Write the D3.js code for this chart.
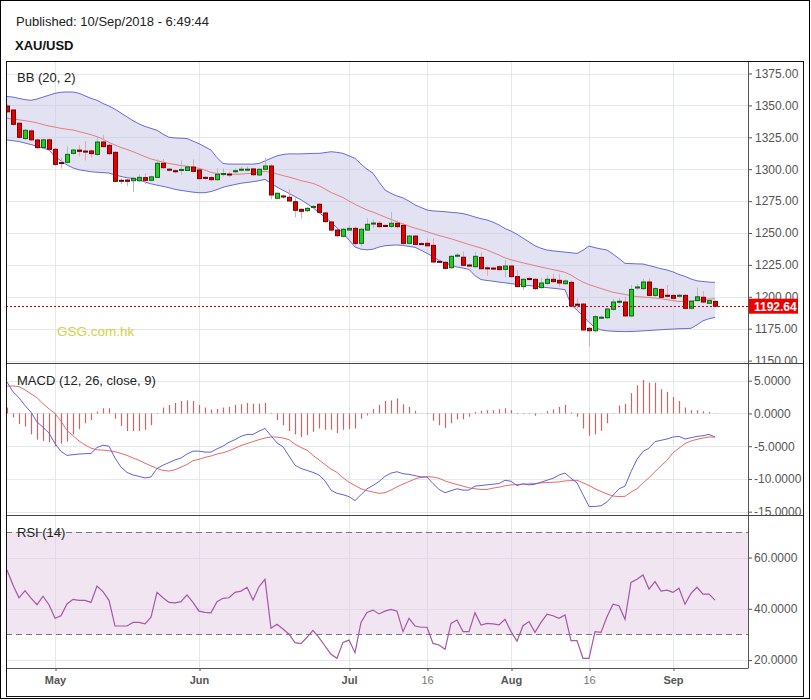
<!DOCTYPE html>
<html><head><meta charset="utf-8">
<script src="https://cdn.jsdelivr.net/npm/d3@7/dist/d3.min.js"></script>
<style>body{margin:0;background:#fff;} svg{display:block;font-family:"Liberation Sans",Arial,sans-serif;}</style>
</head><body><svg id="c" width="811" height="700"></svg>
<script>
const opens=[1349.5,1346.4,1336,1324,1330,1322.9,1317,1323,1315.6,1305.2,
1305.4,1312.4,1315,1314.2,1314.3,1311.6,1321.3,1318.7,1313.2,1291.3,
1291.5,1291,1291,1293.4,1291.3,1293.6,1304.6,1300,1298.8,1299,
1299,1301.7,1299.4,1293.6,1293.4,1291.8,1296.3,1296.2,1298.2,1299.6,
1299.6,1300.2,1295.5,1299.9,1302.5,1277.2,1279,1278,1274.5,1268.5,
1267.5,1270.2,1272.5,1265.7,1258.6,1252.3,1247.4,1252.3,1253.6,1241.9,
1252.3,1257.4,1257.6,1255.9,1255.2,1257.6,1256,1241.9,1247.6,1241.7,
1241.9,1240.3,1227.8,1227,1222.8,1232.3,1231,1224.9,1223.6,1230.9,
1222.7,1222.5,1223.6,1221.5,1224.1,1215.8,1208,1214.3,1213.7,1207.2,
1210.5,1213.7,1212.9,1210.3,1211.3,1194.2,1194.3,1175.3,1173.4,1183.6,
1183.6,1190.2,1196.1,1195.9,1185,1207.3,1206.4,1211.6,1201.1,1205.8,
1201.2,1201.1,1200.8,1201.1,1191,1197,1199.6,1194.9,1196.4];
const closes=[1345.0,1335.2,1325,1330.5,1323,1316.9,1323,1315.6,1303.8,1304.6,
1311.6,1315,1314,1314.0,1312.2,1321.3,1317.7,1312.2,1290.5,1290.6,
1290.5,1292.8,1293.6,1291.3,1294,1304.6,1301.2,1299.5,1298.4,1299.8,
1301.7,1298.3,1292.6,1292.9,1291.8,1296,1296.6,1295.9,1298.8,1300,
1300.0,1295.7,1299.9,1302.5,1279.8,1281.1,1278.3,1275.1,1267.8,1267,
1269.3,1270.8,1266.2,1258.9,1252.3,1247.9,1252.9,1253.6,1241.9,1252.9,
1256.8,1257.8,1255,1255.6,1257.6,1255,1241.9,1247.6,1241.1,1241.3,
1240,1227.3,1227.4,1222.3,1231.7,1232.6,1224.7,1224.7,1231.7,1222,
1222.5,1222.3,1221.3,1224.1,1215.8,1208,1213.7,1214.1,1206.4,1210.8,
1213.7,1211.9,1210.8,1212.4,1192.8,1193.8,1174,1173.4,1184.4,1184.0,
1190.4,1195.9,1196.5,1185,1205.8,1207.7,1211.6,1201.1,1206.4,1199.6,
1200.8,1198.8,1201.2,1191,1196.4,1200,1195.9,1197,1192.64];
const highs=[1351,1347,1337,1331.5,1331,1324,1324,1324,1316.5,1309,
1318,1316,1319,1322,1315.5,1325.5,1327,1320,1314,1293,
1292.5,1294,1296,1296.8,1295,1307.7,1308,1301,1300,1307,
1303,1307.7,1300,1294.5,1294.5,1300.7,1300.7,1298,1301,1302,
1302,1301,1301,1309,1304,1282,1280,1284.3,1277.2,1269.5,
1270.5,1272,1273.5,1266.5,1259.5,1253,1254,1256,1255,1254,
1261.5,1260.5,1259.4,1257,1266.5,1260,1258,1248.5,1248.3,1243,
1245.6,1245.6,1229,1228,1232.5,1234,1235.6,1226,1235,1235.1,
1224,1223.5,1224.5,1228.8,1225,1221,1214.5,1216,1214.5,1215,
1217,1218,1218,1213.5,1213,1198.8,1195,1176.5,1185.5,1185.5,
1191.5,1198.5,1199,1200,1209.2,1210,1214,1214.5,1207.5,1206.5,
1209.2,1202,1202.5,1202,1197.5,1207.3,1204.5,1198,1197];
const lows=[1344,1334,1324,1323,1322,1316,1316,1314.5,1302.5,1300.5,
1304.5,1311.5,1310,1306.8,1309,1310.5,1317,1311,1290,1288.4,
1286.8,1282.3,1290,1288.4,1290.5,1293,1300.5,1298,1296.5,1295.5,
1298.5,1297.5,1292,1291.5,1290.5,1291,1294.3,1294,1297,1298,
1298.5,1294.5,1294.5,1299.5,1276.4,1276.5,1277,1274.5,1262.3,1261.2,
1266.5,1269.5,1265.5,1258,1251.5,1247,1246.5,1251.5,1240,1239.3,
1251.5,1254,1254,1254.5,1254,1253.5,1240.5,1241,1240.5,1240.5,
1239.5,1226.5,1226.5,1221.5,1222,1231,1224,1223.5,1223,1221.5,
1216.5,1221,1220.5,1215.2,1215,1207.5,1205.3,1213,1205.5,1206.5,
1209.5,1211,1208,1209.5,1192,1191,1173.5,1160.9,1172.5,1182.5,
1182.5,1189,1194.5,1184.5,1184,1205.5,1205.5,1200.5,1200,1199,
1199.5,1198,1199.5,1190,1190,1196.5,1195,1194.2,1192];
const bbUpper=[1357,1356.5,1355.5,1354.5,1354,1355,1356.5,1358,1359.5,1360.3,
1360.5,1360.5,1359.5,1357.5,1355.5,1354,1351.5,1349.5,1347,1344,
1341,1338,1335.5,1333.5,1332,1330.5,1327.5,1325,1324.5,1324.3,
1324,1322,1320,1317.5,1315,1309,1304.5,1304,1304,1304,
1304,1304,1304.5,1306.5,1308.5,1310.5,1311.5,1312,1312,1312,
1312.2,1312.4,1312.4,1313,1313.7,1313.2,1312.4,1310.5,1308.5,1304,
1300,1296.8,1290,1283.7,1281,1279,1277.5,1275,1272,1270,
1268,1267.3,1267,1266.7,1266.2,1265.8,1265.2,1264,1262.5,1261.2,
1260.2,1258.5,1256.3,1253.5,1251.5,1249,1246,1243,1240,1238,
1236.7,1236,1235.5,1235,1234.5,1234,1236.5,1239.8,1238.5,1237.5,
1236.7,1233.5,1230,1226.2,1226,1225.8,1225.7,1224.5,1223.3,1222,
1221,1219.5,1217.5,1216,1214,1212.5,1212,1211.5,1211.3];
const bbMiddle=[1340,1339.3,1338.7,1338,1337.3,1336.3,1335,1333.8,1333,1332,
1331.3,1330.7,1329.5,1328.3,1327,1325.5,1323.5,1321,1319,1317,
1315.5,1313.7,1311.8,1309.8,1308,1306.8,1305.5,1304.5,1303.7,1302.8,
1302.3,1301.5,1300.7,1299.3,1297.5,1296.6,1296.3,1296,1296,1296.2,
1296.5,1296.8,1297.5,1298.3,1297.5,1296.3,1295,1293.8,1292.5,1291,
1290,1288.9,1287,1284.5,1281.8,1279.8,1277.8,1275,1272.5,1270.2,
1268,1266.3,1264.5,1262.5,1260.7,1258.8,1257,1255.3,1253.8,1252.5,
1251,1249.5,1248,1246.8,1245.5,1244,1242.5,1241,1239.6,1238.2,
1236.7,1234.7,1232.7,1230.5,1229,1227.8,1226.6,1225.5,1224.4,1223.3,
1222.3,1221.3,1220.3,1219.2,1217,1214,1211.5,1209.6,1208,1206.5,
1205,1203.5,1202.7,1201.8,1200.9,1200.1,1199.8,1199.4,1199,1198.5,
1197.8,1197,1196.3,1196.6,1196.9,1197.4,1197.8,1198.2,1198.5];
const bbLower=[1323,1322.3,1321.7,1320.5,1319.3,1318,1316.5,1315,1310,1306.5,
1303.3,1301,1299.5,1298.8,1298,1297.6,1297.3,1297,1295.5,1294.3,
1293.3,1292.8,1291.5,1290,1288.5,1287.5,1286.5,1285.5,1284.2,1283.4,
1282.7,1282,1281.6,1281.6,1282.5,1284,1285.8,1287,1288,1289,
1289.6,1290.2,1291,1292,1289,1286,1283.5,1281,1278.5,1276,
1273,1269.8,1266,1262.5,1258.5,1254,1250,1244.5,1239,1237.3,
1236.8,1237.3,1239,1240,1240.4,1240.6,1240.3,1239.5,1238.8,1236.5,
1234,1231.5,1228.5,1226.5,1225,1223.3,1222.5,1221.5,1216.5,1213.5,
1212.8,1212.2,1211.5,1211,1210.3,1209.8,1209.3,1208.8,1208.3,1207.7,
1207.2,1206.7,1206.2,1205.6,1194,1189.5,1185,1180,1176,1174,
1173.3,1173,1172.8,1172.7,1172.8,1173,1173.3,1173.6,1173.9,1174.2,
1174.5,1174.7,1175,1175.1,1175.3,1178,1181.2,1182.8,1183.9];
const macdLine=[4.8,3.3,2.4,1.2,0.2,-1.3,-2.1,-3.0,-4.6,-5.8,
-6.4,-6.3,-6.2,-6.15,-6.1,-5.2,-4.85,-5.0,-6.8,-8.2,
-9.0,-9.4,-9.6,-9.85,-9.7,-8.4,-7.9,-7.5,-7.1,-6.8,
-6.2,-5.75,-5.75,-5.9,-5.9,-5.4,-5.0,-4.4,-4.0,-3.5,
-3.2,-3.2,-2.7,-2.3,-3.4,-4.5,-5.1,-6.5,-7.9,-8.4,
-8.7,-9.0,-9.4,-10.3,-11.7,-12.2,-12.4,-12.7,-13.3,-12.4,
-11.5,-11.0,-10.4,-9.6,-9.1,-8.9,-9.2,-9.3,-9.5,-9.7,
-9.7,-10.7,-11.6,-12.1,-11.8,-11.5,-11.7,-11.7,-11.1,-11.0,
-10.9,-10.8,-10.7,-10.2,-10.35,-11.0,-10.75,-10.9,-10.8,-10.5,
-10.2,-9.9,-9.4,-9.1,-9.9,-10.6,-12.4,-14.2,-14.2,-14.1,
-13.5,-12.5,-11.5,-11.1,-8.9,-7.0,-5.8,-5.3,-4.3,-4.1,
-3.9,-3.6,-3.5,-3.9,-3.7,-3.5,-3.4,-3.2,-3.6];
const macdSignal=[4.17,4.2,4.1,3.6,3.0,2.4,1.5,0.7,0.0,-1.2,
-2.6,-3.4,-4.2,-4.8,-5.3,-5.55,-5.6,-5.7,-5.85,-6.1,
-6.4,-6.8,-7.15,-7.6,-8.0,-8.4,-8.7,-8.8,-8.6,-8.2,
-7.8,-7.2,-7.0,-6.7,-6.5,-6.2,-6.0,-5.7,-5.3,-4.9,
-4.6,-4.3,-4.0,-3.75,-3.6,-3.6,-3.75,-4.0,-4.7,-5.2,
-5.6,-6.4,-7.1,-7.8,-8.5,-9.0,-9.8,-10.5,-11.0,-11.5,
-11.8,-12.0,-12.2,-12.1,-11.7,-11.2,-10.8,-10.4,-10.0,-9.75,
-9.65,-9.7,-9.9,-10.3,-10.6,-10.85,-11.1,-11.35,-11.5,-11.6,
-11.6,-11.4,-11.25,-11.05,-10.9,-10.85,-10.8,-10.75,-10.7,-10.6,
-10.55,-10.5,-10.45,-10.3,-10.25,-10.2,-10.6,-11.0,-11.5,-11.9,
-12.3,-12.6,-12.7,-12.65,-12.0,-11.5,-10.6,-9.8,-8.9,-8.0,
-7.15,-6.0,-5.3,-4.6,-4.2,-3.95,-3.75,-3.6,-3.6];
const macdHist=[0.9,-0.6,-1.6,-2.0,-3.2,-4.0,-4.2,-4.4,-5.0,-4.6,
-4.3,-3.2,-2.4,-1.5,-1.0,0.3,0.8,0.8,-0.8,-1.9,
-2.7,-2.7,-2.7,-2.5,-1.8,-0.1,0.9,1.3,1.6,1.9,
2.0,1.9,1.3,0.9,0.6,0.7,0.9,1.0,1.3,1.4,
1.6,1.5,1.5,1.6,0.1,-1.0,-1.8,-2.7,-3.2,-3.6,
-3.3,-2.8,-2.3,-2.5,-2.5,-3.0,-2.5,-2.4,-2.3,-0.8,
-0.3,0.7,1.3,1.9,2.0,2.3,1.4,1.0,0.4,0.05,
-0.1,-1.1,-1.8,-2.2,-1.5,-0.9,-0.9,-0.5,0.25,0.4,
0.5,0.5,0.65,0.8,0.5,-0.1,-0.1,-0.1,-0.35,0.05,
0.35,0.6,1.0,1.3,0.15,-0.5,-2.3,-3.4,-3.2,-2.65,
-1.5,0.05,1.2,1.5,3.1,4.3,5.1,4.7,4.7,3.7,
3.3,2.5,1.9,0.9,0.5,0.5,0.35,0.25,0.05];
const rsiValues=[55.1,49.3,44.3,47.1,44.2,41.6,44.9,41.6,36.3,37.3,
41.9,43.7,43.3,43.3,42.5,48.9,46.7,43.3,33.3,33.3,
33.3,34.7,34.7,34.1,36.7,46.4,44.3,42.5,42.3,42.8,
45.4,42.5,39.1,38.6,38.4,42.8,44.1,44.3,46.4,46.9,
48.4,43.4,48.6,51.5,32.4,34.0,32.1,30.1,26.8,26.4,
28.9,31.6,28.8,25.5,22.3,20.7,26.9,27.8,22.9,34.7,
38.6,39.5,38.0,39.1,39.8,39.1,31.1,36.3,33.3,32.8,
32.8,26.5,25.9,24.2,34.3,35.6,31.1,31.1,38.5,33.7,
34.3,34.1,33.7,35.9,31.1,27.4,33.4,35.0,30.8,34.7,
37.9,37.3,36.3,37.6,27.6,27.6,20.7,20.7,31.1,30.8,
36.9,41.8,41.2,35.9,50.3,51.5,53.2,47.7,50.6,46.9,
47.3,46.4,48.0,41.8,46.0,48.4,45.7,45.7,43.4];
const dateTickIdx=[8,32,57,70,84,97,111];
const dateTickLabels=["May","Jun","Jul","16","Aug","16","Sep"];
const priceTicks=[1150,1175,1200,1225,1250,1275,1300,1325,1350,1375];
const macdTicks=[-15,-10,-5,0,5];
const rsiTicks=[20,40,60];
const rsiBand=[30,70];
const lastPrice=1192.64;

const svg=d3.select("#c");
const L=6,R=748;
const P={top:61,bot:363}, M={top:363,bot:515}, S={top:515,bot:668};
const N=closes.length;
const x=d3.scaleLinear().domain([0,118]).range([7,715]);
const yP=d3.scaleLinear().domain([1150,1375]).range([360.6,73.5]);
const yM=d3.scaleLinear().domain([-15,5]).range([511.7,380.7]);
const yR=d3.scaleLinear().domain([20,60]).range([660.1,557.5]);

const defs=svg.append("defs");
function clip(id,x0,y0,x1,y1){defs.append("clipPath").attr("id",id).append("rect").attr("x",x0).attr("y",y0).attr("width",x1-x0).attr("height",y1-y0);return "url(#"+id+")";}
const cP=clip("cp",L,P.top,R,P.bot), cM=clip("cm",L,M.top,R,M.bot), cS=clip("cs",L,S.top,R,S.bot);
const aP=clip("ap",R,P.top,804,P.bot), aM=clip("am",R,M.top,804,M.bot), aS=clip("as",R,S.top,804,S.bot);

svg.append("rect").attr("x",0.5).attr("y",0.5).attr("width",809).attr("height",698).attr("fill","#fff").attr("stroke","#000");
svg.append("text").attr("x",16).attr("y",25.5).attr("font-size",13).attr("fill","#222").text("Published: 10/Sep/2018 - 6:49:44");
svg.append("text").attr("x",15).attr("y",50).attr("font-size",13).attr("font-weight","bold").attr("fill","#111").text("XAU/USD");

const gridC="#e3e8ec";
function vgrid(g,p){g.selectAll(null).data(dateTickIdx).enter().append("line").attr("x1",d=>Math.round(x(d))+0.5).attr("x2",d=>Math.round(x(d))+0.5).attr("y1",p.top).attr("y2",p.bot).attr("stroke",gridC);}
function hgrid(g,ticks,y){g.selectAll(null).data(ticks).enter().append("line").attr("x1",L).attr("x2",R).attr("y1",d=>Math.round(y(d))+0.5).attr("y2",d=>Math.round(y(d))+0.5).attr("stroke",gridC);}

// PRICE PANEL
const gp=svg.append("g").attr("clip-path",cP);
vgrid(gp,P); hgrid(gp,priceTicks,yP);
gp.append("path").datum(d3.range(N)).attr("d",d3.area().x(i=>x(i)).y0(i=>yP(bbLower[i])).y1(i=>yP(bbUpper[i]))).attr("fill","#c6c6e6").attr("opacity",0.5);
gp.append("path").datum(d3.range(N)).attr("d",d3.line().x(i=>x(i)).y(i=>yP(bbUpper[i]))).attr("fill","none").attr("stroke","#6a6ad8").attr("stroke-width",1);
gp.append("path").datum(d3.range(N)).attr("d",d3.line().x(i=>x(i)).y(i=>yP(bbLower[i]))).attr("fill","none").attr("stroke","#6a6ad8").attr("stroke-width",1);
gp.append("path").datum(d3.range(N)).attr("d",d3.line().x(i=>x(i)).y(i=>yP(bbMiddle[i]))).attr("fill","none").attr("stroke","#e57f7f").attr("stroke-width",1);
const cg=gp.selectAll(null).data(d3.range(N)).enter().append("g");
cg.append("line").attr("x1",i=>Math.round(x(i))+0.5).attr("x2",i=>Math.round(x(i))+0.5)
  .attr("y1",i=>yP(highs[i])).attr("y2",i=>yP(lows[i]))
  .attr("stroke",i=>closes[i]>=opens[i]?"#a9bec6":"#eba5ab").attr("stroke-width",1);
cg.append("rect").attr("x",i=>Math.round(x(i))-2+0.5).attr("width",4)
  .attr("y",i=>yP(Math.max(opens[i],closes[i])))
  .attr("height",i=>Math.max(1,Math.abs(yP(opens[i])-yP(closes[i]))))
  .attr("fill",i=>closes[i]>=opens[i]?"#22cc22":"#e30000")
  .attr("stroke",i=>closes[i]>=opens[i]?"#116611":"#7a0000").attr("stroke-width",1);
gp.append("line").attr("x1",L).attr("x2",R).attr("y1",Math.round(yP(lastPrice))+0.5).attr("y2",Math.round(yP(lastPrice))+0.5)
  .attr("stroke","#cc0000").attr("stroke-dasharray","2,2");
svg.append("text").attr("x",57).attr("y",336).attr("font-size",13.5).attr("fill","#d2d244").text("GSG.com.hk");
svg.append("text").attr("x",17).attr("y",82).attr("font-size",13).attr("fill","#222").text("BB (20, 2)");

// MACD PANEL
const gm=svg.append("g").attr("clip-path",cM);
vgrid(gm,M); hgrid(gm,macdTicks,yM);
gm.selectAll(null).data(d3.range(N)).enter().append("line")
  .attr("x1",i=>Math.round(x(i))+0.5).attr("x2",i=>Math.round(x(i))+0.5)
  .attr("y1",yM(0)).attr("y2",i=>yM(macdHist[i])).attr("stroke","#cc6666").attr("stroke-width",1.2);
gm.append("path").datum(d3.range(N)).attr("d",d3.line().x(i=>x(i)).y(i=>yM(macdSignal[i]))).attr("fill","none").attr("stroke","#e86a6a").attr("stroke-width",1);
gm.append("path").datum(d3.range(N)).attr("d",d3.line().x(i=>x(i)).y(i=>yM(macdLine[i]))).attr("fill","none").attr("stroke","#6262dc").attr("stroke-width",1);
svg.append("text").attr("x",17).attr("y",385).attr("font-size",13).attr("fill","#222").text("MACD (12, 26, close, 9)");

// RSI PANEL
const gs=svg.append("g").attr("clip-path",cS);
vgrid(gs,S); hgrid(gs,rsiTicks,yR);
gs.append("rect").attr("x",L).attr("width",R-L).attr("y",yR(rsiBand[1])).attr("height",yR(rsiBand[0])-yR(rsiBand[1])).attr("fill","#e2c6e2").attr("opacity",0.45);
gs.selectAll(null).data(rsiBand).enter().append("line").attr("x1",L).attr("x2",R)
  .attr("y1",d=>Math.round(yR(d))+0.5).attr("y2",d=>Math.round(yR(d))+0.5).attr("stroke","#777").attr("stroke-dasharray","6,4");
gs.append("path").datum(d3.range(N)).attr("d",d3.line().x(i=>x(i)).y(i=>yR(rsiValues[i]))).attr("fill","none").attr("stroke","#a558a5").attr("stroke-width",1.2);
svg.append("text").attr("x",17).attr("y",537).attr("font-size",13).attr("fill","#222").text("RSI (14)");

// AXES (outer group clipped in page space, inner group translated)
function styleAxis(g){g.select(".domain").remove();g.selectAll(".tick line").attr("stroke","#555");g.selectAll("text").attr("fill","#555").attr("font-size",12).attr("font-family","Liberation Sans, Arial, sans-serif");}
function rightAxis(clipUrl,scale,ticks,fmt,pad){
  svg.append("g").attr("clip-path",clipUrl).append("g").attr("transform","translate("+R+",0)")
    .call(d3.axisRight(scale).tickValues(ticks).tickFormat(fmt).tickSize(4).tickPadding(pad)).call(styleAxis);
}
rightAxis(aP,yP,priceTicks,d=>d.toFixed(2),3);
rightAxis(aM,yM,macdTicks,d=>d.toFixed(4),2);
rightAxis(aS,yR,rsiTicks,d=>d.toFixed(4),2);
const xa=svg.append("g").attr("transform","translate(0,"+S.bot+")")
  .call(d3.axisBottom(x).tickValues(dateTickIdx).tickFormat((d,i)=>dateTickLabels[i]).tickSize(3).tickPadding(5));
xa.select(".domain").remove();
xa.selectAll(".tick line").attr("stroke","#555").attr("transform","translate(0.5,0)");
xa.selectAll("text").attr("font-size",11).attr("font-family","Liberation Sans, Arial, sans-serif")
  .attr("fill",(d,i)=>/^\d/.test(dateTickLabels[i])?"#777":"#555")
  .attr("font-weight",(d,i)=>/^\d/.test(dateTickLabels[i])?"normal":"bold");

// price label
const ly=yP(lastPrice);
svg.append("rect").attr("x",R).attr("y",ly-7.5).attr("width",50).attr("height",15).attr("fill","#ee0000");
svg.append("text").attr("x",R+6).attr("y",ly+4.5).attr("font-size",12).attr("font-weight","bold").attr("fill","#fff").text(lastPrice.toFixed(2));

// frames
svg.append("line").attr("x1",R+0.5).attr("x2",R+0.5).attr("y1",P.top).attr("y2",S.bot).attr("stroke","#555");
svg.append("line").attr("x1",L).attr("x2",R+0.5).attr("y1",S.bot+0.5).attr("y2",S.bot+0.5).attr("stroke","#555");
[M.top,M.bot].forEach(v=>svg.append("line").attr("x1",L).attr("x2",804).attr("y1",v+0.5).attr("y2",v+0.5).attr("stroke","#444"));
svg.append("rect").attr("x",6.5).attr("y",61.5).attr("width",797).attr("height",635).attr("fill","none").attr("stroke","#111");
</script></body></html>
